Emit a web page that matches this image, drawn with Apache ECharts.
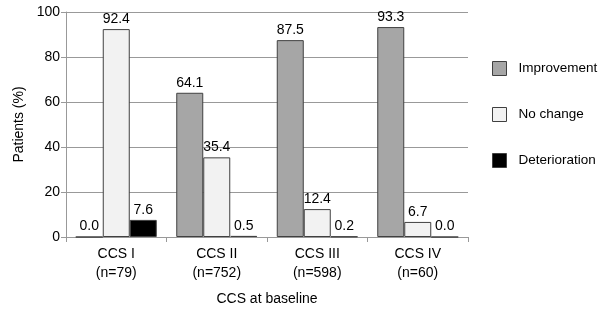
<!DOCTYPE html>
<html><head><meta charset="utf-8">
<script src="https://cdn.jsdelivr.net/npm/echarts@6/dist/echarts.min.js"></script>
<style>html,body{margin:0;padding:0;background:#fff}#c{width:607px;height:315px}</style>
</head><body><div id="c"></div>
<script>
const categories = ['CCS I\n(n=79)', 'CCS II\n(n=752)', 'CCS III\n(n=598)', 'CCS IV\n(n=60)'];
const improvement = [0.0, 64.1, 87.5, 93.3];
const noChange = [92.4, 35.4, 12.4, 6.7];
const deterioration = [7.6, 0.5, 0.2, 0.0];
const yTicks = [0, 20, 40, 60, 80, 100];

const font = '"Liberation Sans"';
const lineCol = '#999';
function mk(name, data, color) {
  return {
    name, type: 'bar', data, barWidth: 27, barGap: '0%',
    itemStyle: { color, borderColor: '#404040', borderWidth: 1 },
    label: { show: true, position: 'top', distance: 3, color: '#000', fontFamily: font, fontSize: 14,
      formatter: p => p.value.toFixed(1) }
  };
}
const chart = echarts.init(document.getElementById('c'));
chart.setOption({
  animation: false,
  grid: { left: 66, right: 139, top: 12, bottom: 78 },
  legend: {
    orient: 'vertical', left: 492, top: 61, padding: 0, itemWidth: 14, itemHeight: 14, itemGap: 31,
    icon: 'rect', textStyle: { fontFamily: font, fontSize: 13.5, color: '#000', padding: [0, 0, 0, 7] },
    itemStyle: { borderColor: '#404040', borderWidth: 1 },
    data: ['Improvement', 'No change', 'Deterioration']
  },
  xAxis: {
    type: 'category', data: categories,
    name: 'CCS at baseline', nameLocation: 'middle', nameGap: 55,
    nameTextStyle: { fontFamily: font, fontSize: 14, color: '#000' },
    axisLine: { lineStyle: { color: lineCol } },
    axisTick: { show: true, length: 5, lineStyle: { color: lineCol } },
    axisLabel: { fontFamily: font, fontSize: 14, color: '#000', lineHeight: 19, margin: 8 }
  },
  yAxis: {
    type: 'value', min: yTicks[0], max: yTicks[yTicks.length - 1], interval: 20,
    name: 'Patients (%)', nameLocation: 'middle', nameGap: 40,
    nameTextStyle: { fontFamily: font, fontSize: 14, color: '#000' },
    axisLine: { show: true, lineStyle: { color: lineCol } },
    axisTick: { show: true, length: 5, lineStyle: { color: lineCol } },
    splitLine: { lineStyle: { color: lineCol } },
    axisLabel: { fontFamily: font, fontSize: 14, color: '#000', margin: 6 }
  },
  series: [
    mk('Improvement', improvement, '#a6a6a6'),
    mk('No change', noChange, '#f2f2f2'),
    mk('Deterioration', deterioration, '#000000')
  ]
});
</script></body></html>
